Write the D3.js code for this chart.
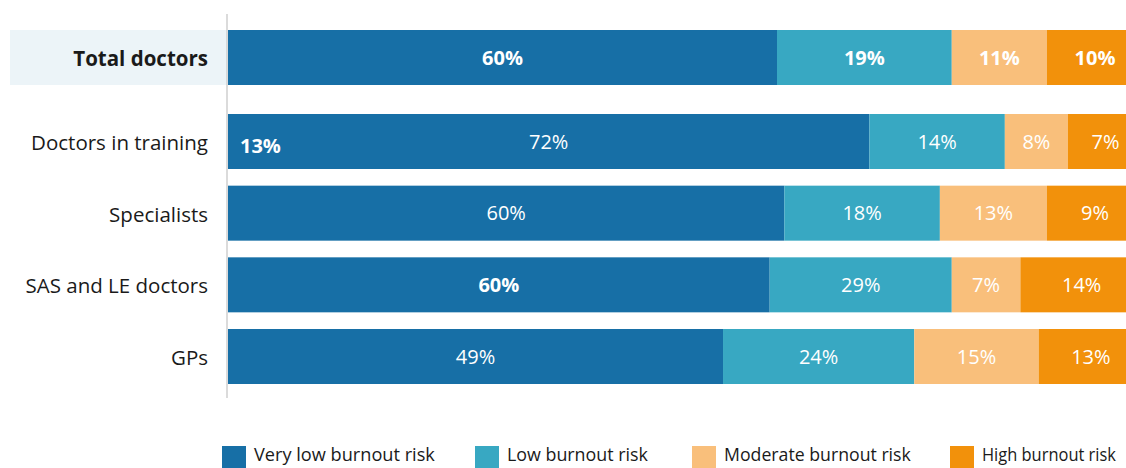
<!DOCTYPE html>
<html>
<head>
<meta charset="utf-8">
<script src="https://cdn.jsdelivr.net/npm/d3@7"></script>
<style>
  html, body { margin: 0; padding: 0; background: #fff; overflow: hidden; }
  svg { display: block; }
</style>
</head>
<body>
<svg id="chart" width="1126" height="468"></svg>
<script>
// ---- data ----
const series = ["Very low burnout risk", "Low burnout risk", "Moderate burnout risk", "High burnout risk"];
const totalCategory = "Total doctors";
const groupCategories = ["Doctors in training", "Specialists", "SAS and LE doctors", "GPs"];

// segment widths (percent of bar)
const totalValues = [60.0, 19.1, 10.4, 10.5];
const trainingValues = [70.1, 14.8, 6.9, 8.2];
const specialistValues = [60.8, 17.0, 11.7, 10.5];
const sasValues = [59.2, 19.9, 7.5, 13.4];
const gpValues = [54.1, 20.9, 13.6, 11.4];

// printed labels, as shown in the picture
const totalLabels = ["60%", "19%", "11%", "10%"];
const trainingLabels = ["72%", "14%", "8%", "7%"];
const specialistLabels = ["60%", "18%", "13%", "9%"];
const sasLabels = ["60%", "29%", "7%", "14%"];
const gpLabels = ["49%", "24%", "15%", "13%"];
const trainingExtraLabel = "13%";

// ---- styling ----
const colors = ["#176fa6", "#38a8c2", "#f9bf7b", "#f2910b"];
const FONT = "'Open Sans', 'Noto Sans', sans-serif";

const svg = d3.select("#chart");

const rows = [
  { name: totalCategory, values: totalValues, labels: totalLabels, total: true },
  { name: groupCategories[0], values: trainingValues, labels: trainingLabels },
  { name: groupCategories[1], values: specialistValues, labels: specialistLabels },
  { name: groupCategories[2], values: sasValues, labels: sasLabels },
  { name: groupCategories[3], values: gpValues, labels: gpLabels }
];

const x = d3.scaleLinear().domain([0, 100]).range([228, 1143]);
const yTotal = d3.scaleBand().domain([totalCategory]).range([30, 85]).padding(0);
const yGroup = d3.scaleBand().domain(groupCategories).range([114, 384]).paddingInner(0.2326).paddingOuter(0);
const yPos = name => name === totalCategory ? yTotal(name) : yGroup(name);
const bw = yGroup.bandwidth();

// total highlight background
svg.append("rect")
  .attr("x", 10).attr("y", yTotal(totalCategory))
  .attr("width", x(0) - 1 - 10).attr("height", yTotal.bandwidth())
  .attr("fill", "#ecf4f8");

// stacked bars
rows.forEach(row => {
  const stacked = [];
  let acc = 0;
  row.values.forEach((v, i) => { stacked.push({ i, x0: acc, x1: acc + v, label: row.labels[i] }); acc += v; });
  const g = svg.append("g");
  g.selectAll("rect").data(stacked).join("rect")
    .attr("x", d => x(d.x0))
    .attr("y", yPos(row.name))
    .attr("width", d => x(d.x1) - x(d.x0))
    .attr("height", bw)
    .attr("fill", d => colors[d.i]);
  g.selectAll("text").data(stacked).join("text")
    .attr("x", d => (x(d.x0) + x(d.x1)) / 2)
    .attr("y", yPos(row.name) + bw / 2)
    .attr("dy", "0.36em")
    .attr("text-anchor", "middle")
    .attr("fill", "#fff")
    .attr("font-family", FONT)
    .attr("font-size", 20)
    .attr("font-weight", d => (row.total || (row.name === "SAS and LE doctors" && d.i === 0)) ? 700 : 400)
    .text(d => d.label);
});

// extra bold label in "Doctors in training"
svg.append("text")
  .attr("x", x(0) + 12)
  .attr("y", yGroup("Doctors in training") + bw / 2 + 4)
  .attr("dy", "0.36em")
  .attr("fill", "#fff")
  .attr("font-family", FONT)
  .attr("font-size", 20)
  .attr("font-weight", 700)
  .text(trainingExtraLabel);

// category labels
svg.append("g").selectAll("text").data(rows).join("text")
  .attr("x", 208)
  .attr("y", d => yPos(d.name) + bw / 2 + 1)
  .attr("dy", "0.36em")
  .attr("text-anchor", "end")
  .attr("fill", "#1a1a1a")
  .attr("font-family", FONT)
  .attr("font-size", 20.5)
  .attr("font-weight", d => d.total ? 700 : 400)
  .text(d => d.name);

// axis line
svg.append("line")
  .attr("x1", x(0) - 1).attr("x2", x(0) - 1)
  .attr("y1", 14).attr("y2", 398)
  .attr("stroke", "#cfcfcf").attr("stroke-width", 1.5);

// legend (text condensed horizontally via transform)
const legendX = [222, 475, 692, 950];
const legendTextWidth = [181, 141, 187, 134];
const legend = svg.append("g");
series.forEach((s, i) => {
  legend.append("rect")
    .attr("x", legendX[i]).attr("y", 446)
    .attr("width", 24).attr("height", 24)
    .attr("fill", colors[i]);
  const tx = legendX[i] + 32;
  const t = legend.append("text")
    .attr("x", 0).attr("y", 0)
    .attr("fill", "#1a1a1a")
    .attr("font-family", FONT)
    .attr("font-size", 18.5)
    .text(s);
  const natural = t.node().getComputedTextLength() || legendTextWidth[i];
  const sx = legendTextWidth[i] / natural;
  t.attr("transform", `translate(${tx},461) scale(${sx},1)`);
});
</script>
</body>
</html>
